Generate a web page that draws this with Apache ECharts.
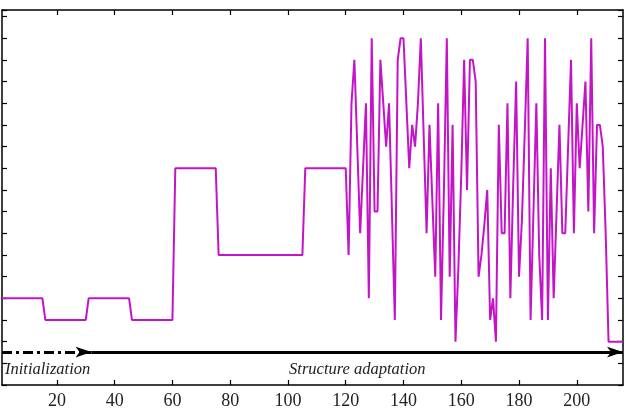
<!DOCTYPE html>
<html>
<head>
<meta charset="utf-8">
<script src="https://cdn.jsdelivr.net/npm/echarts@6/dist/echarts.min.js"></script>
<style>
html, body { margin: 0; padding: 0; background: #fff; }
#chart { width: 634px; height: 414px; }
</style>
</head>
<body>
<div id="chart"></div>
<script>
// first iteration is 1, one value per iteration
var firstIteration = 1;
var initPhase = [
    4, 4, 4, 4, 4, 4, 4, 4, 4, 4, 4, 4, 4, 4, 4,
    3, 3, 3, 3, 3, 3, 3, 3, 3, 3, 3, 3, 3, 3, 3,
    4, 4, 4, 4, 4, 4, 4, 4, 4, 4, 4, 4, 4, 4, 4,
    3, 3, 3, 3, 3, 3, 3, 3, 3, 3, 3, 3, 3, 3, 3,
    10, 10, 10, 10, 10, 10, 10, 10, 10, 10, 10, 10, 10, 10, 10,
    6, 6, 6, 6, 6, 6, 6, 6, 6, 6, 6, 6, 6, 6, 6,
    6, 6, 6, 6, 6, 6, 6, 6, 6, 6, 6, 6, 6, 6, 6,
    10, 10, 10, 10, 10, 10, 10, 10, 10, 10, 10, 10, 10, 10, 10
];
var adaptPhase = [
    6, 13, 15, 11, 7, 10, 13, 4, 16, 8,
    8, 15, 13, 11, 13, 8, 3, 15, 16, 16,
    13, 10, 12, 11, 13, 16, 11.5, 7, 12, 8.5,
    5, 13, 3, 9, 16, 5, 12, 2, 5.4, 9.7,
    15, 9, 15, 15, 14, 5, 6, 7.4, 9, 3,
    4, 2, 12, 7, 7, 13, 4, 9.3, 14, 5,
    7.6, 11.7, 16, 3, 8, 13, 6, 3, 16, 3,
    10, 4, 8, 12, 7, 7, 11, 15, 7, 13,
    10, 12, 14, 8, 16, 7, 12, 12, 11, 7,
    2, 2, 2, 2, 2, 2
];
var xTicks = [20, 40, 60, 80, 100, 120, 140, 160, 180, 200];
var xRange = [1, 216];
var yRange = [0, 17.3];
var arrowLevel = 1.52;
var initArrow = [1, 32];
var adaptArrow = [32, 216];
var initLabel = 'Initialization';
var adaptLabel = 'Structure adaptation';

var levels = initPhase.concat(adaptPhase);
var lineData = levels.map(function (v, i) { return [firstIteration + i, v]; });

var serif = "'Liberation Serif', 'DejaVu Serif', serif";
var chart = echarts.init(document.getElementById('chart'));

function xAxisDef(pos, labels) {
    return {
        type: 'value', position: pos, min: xRange[0], max: xRange[1],
        axisLine: { show: true, onZero: false, lineStyle: { color: '#000', width: 1.5 } },
        axisTick: { show: true, inside: true, length: 5, customValues: xTicks,
                    lineStyle: { color: '#000', width: 1.2 } },
        axisLabel: { show: labels, customValues: xTicks, margin: 7,
                     fontFamily: serif, fontSize: 18, color: '#222' },
        splitLine: { show: false }
    };
}
function yAxisDef(pos) {
    return {
        type: 'value', position: pos, min: yRange[0], max: yRange[1], interval: 1,
        axisLine: { show: true, onZero: false, lineStyle: { color: '#000', width: 1.5 } },
        axisTick: { show: true, inside: true, length: 5, lineStyle: { color: '#000', width: 1.2 } },
        axisLabel: { show: false },
        splitLine: { show: false }
    };
}

var option = {
    animation: false,
    grid: { left: 2, right: 11, top: 10, bottom: 29 },
    xAxis: [xAxisDef('bottom', true), xAxisDef('top', false)],
    yAxis: [yAxisDef('left'), yAxisDef('right')],
    series: [{
        type: 'line',
        data: lineData,
        showSymbol: false,
        lineStyle: { color: '#c414c8', width: 2 },
        markLine: {
            silent: true,
            animation: false,
            symbol: ['none', 'arrow'],
            data: [
                [{ coord: [initArrow[0], arrowLevel],
                   symbolSize: [10, 14],
                   lineStyle: { color: '#000', width: 3, type: [10, 4, 3, 4] },
                   label: { show: true, formatter: initLabel, position: 'insideStartBottom',
                            distance: [3, 9], fontFamily: serif, fontStyle: 'italic',
                            fontSize: 16.5, color: '#222' } },
                 { coord: [initArrow[1], arrowLevel] }],
                [{ coord: [adaptArrow[0], arrowLevel],
                   symbolSize: [11, 16],
                   lineStyle: { color: '#000', width: 3, type: 'solid' },
                   label: { show: true, formatter: adaptLabel, position: 'insideMiddleBottom',
                            distance: 9, fontFamily: serif, fontStyle: 'italic',
                            fontSize: 16.5, color: '#222' } },
                 { coord: [adaptArrow[1], arrowLevel] }]
            ]
        }
    }]
};
chart.setOption(option);
</script>
</body>
</html>
